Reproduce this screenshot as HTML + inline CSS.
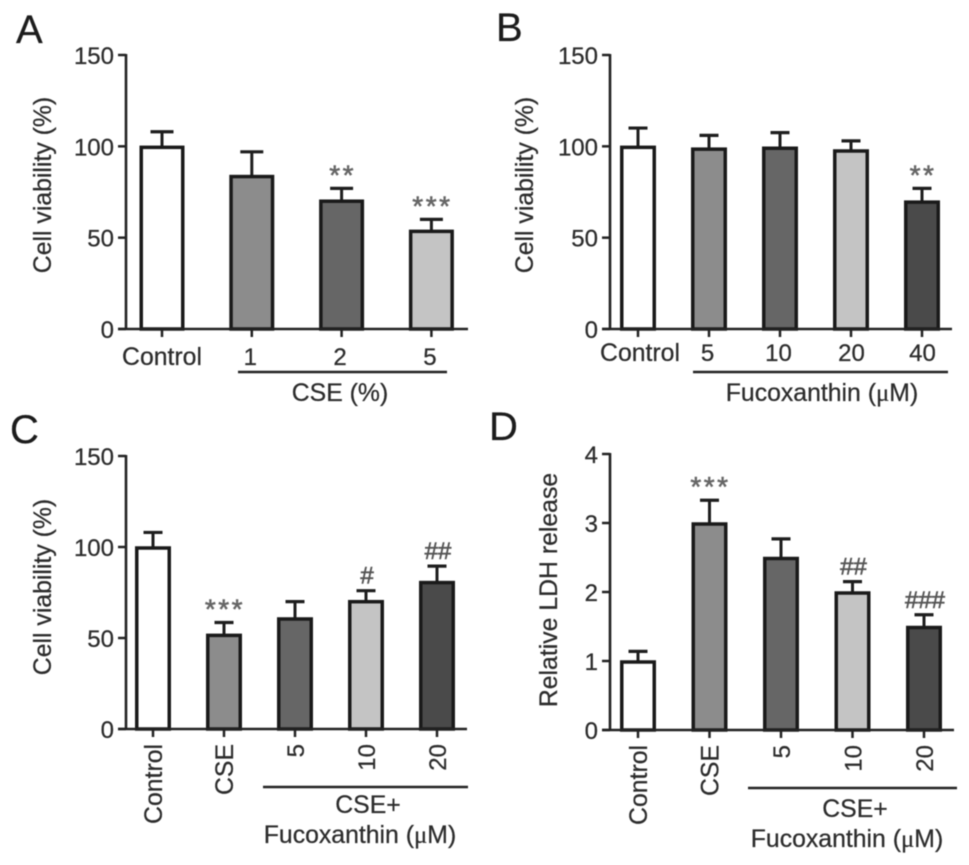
<!DOCTYPE html>
<html>
<head>
<meta charset="utf-8">
<style>
html,body{margin:0;padding:0;background:#fff;}
#figure{display:block;width:969px;height:865px;filter:blur(0.6px);}
text{font-family:"Liberation Sans",sans-serif;fill:#2c2c2c;stroke:#2c2c2c;stroke-width:0.25px;}
</style>
</head>
<body>
<svg id="figure" xmlns="http://www.w3.org/2000/svg" width="969" height="865" viewBox="0 0 969 865"></svg>
<script>
// Panel A
const aCategories = ['Control', '1', '2', '5'];
const aValues = [100, 84, 70.5, 54];
const aErrorTops = [108, 97, 77, 60];
const aMarks = ['', '', '**', '***'];
// Panel B
const bCategories = ['Control', '5', '10', '20', '40'];
const bValues = [100, 99, 99.5, 98, 70];
const bErrorTops = [110, 106, 107.5, 103, 77];
const bMarks = ['', '', '', '', '**'];
// Panel C
const cCategories = ['Control', 'CSE', '5', '10', '20'];
const cValues = [100, 52, 61, 70.5, 81];
const cErrorTops = [108, 58.5, 70, 76, 89.5];
const cMarks = ['', '***', '', '#', '##'];
// Panel D
const dCategories = ['Control', 'CSE', '5', '10', '20'];
const dValues = [1, 3, 2.5, 2, 1.5];
const dErrorTops = [1.14, 3.33, 2.77, 2.15, 1.67];
const dMarks = ['', '***', '', '##', '###'];
// Axis ticks
const viabilityTicks = [0, 50, 100, 150];
const ldhTicks = [0, 1, 2, 3, 4];
// Bar fills, in drawing order
const fillsFour = ['#ffffff', '#8c8c8c', '#666666', '#c4c4c4'];
const fillsFive = ['#ffffff', '#8c8c8c', '#666666', '#c4c4c4', '#4a4a4a'];

const SVG_NS = 'http://www.w3.org/2000/svg';
const WORD_SIZE = 24.8;
const NUMBER_SIZE = 24;
const root = document.getElementById('figure');

function make(parent, tag, attrs, content) {
  const node = document.createElementNS(SVG_NS, tag);
  for (const key in attrs) node.setAttribute(key, attrs[key]);
  if (content !== undefined) node.textContent = content;
  parent.appendChild(node);
  return node;
}

function line(parent, x1, y1, x2, y2, width, color) {
  return make(parent, 'line', {x1, y1, x2, y2, stroke: color || '#222', 'stroke-width': width});
}

function drawPanel(p) {
  const g = make(root, 'g', {});
  
  

  const yScale = v => p.y0 + (v / p.yMax) * (p.yTop - p.y0);
  const xScale = i => p.xFirst + i * p.xStep;

  const letter = make(g, 'text', {x: p.letterX, y: p.letterY, 'font-size': 40, style: 'fill:#1c1c1c;stroke:#1c1c1c'}, p.letter);
  
  

  const title = make(g, 'text', {
    x: 0, y: 0, 'font-size': WORD_SIZE, 'text-anchor': 'middle',
    transform: 'translate(' + p.titleX + ',' + p.titleY + ') rotate(-90)'
  }, p.title);
  
  

  p.categories.forEach((cat, i) => {
    const cx = xScale(i);
    const top = yScale(p.values[i]) + 1;
    const errTop = yScale(p.errorTops[i]);
    const isWord = isNaN(Number(cat));
    const labelSize = isWord ? WORD_SIZE : NUMBER_SIZE;

    const stem = line(g, cx, errTop, cx, top, 3, '#1e1e1e');
    
    

    const cap = line(g, cx - p.capW / 2, errTop, cx + p.capW / 2, errTop, 3.2, '#1e1e1e');
    
    

    const bar = make(g, 'rect', {
      x: cx - p.barW / 2 + 1.75, y: top, width: p.barW - 3.5, height: p.y0 - top,
      fill: p.fills[i], stroke: '#1a1a1a', 'stroke-width': 3.5
    });
    
    

    const tick = line(g, cx, p.y0, cx, p.y0 + 8, 2.5);
    
    

    let label;
    if (p.rotated) {
      label = make(g, 'text', {
        x: 0, y: 0, 'font-size': labelSize, 'text-anchor': 'end',
        transform: 'translate(' + (cx + 9) + ',' + (p.y0 + 15) + ') rotate(-90)'
      }, cat);
    } else {
      label = make(g, 'text', {
        x: cx + p.labelShift(i), y: p.labelY,
        'font-size': labelSize, 'text-anchor': 'middle'
      }, cat);
    }
    
    

    const markText = p.marks[i];
    if (markText) {
      const isHash = markText[0] === '#';
      const mark = make(g, 'text', {
        x: cx + 1, y: errTop - (isHash ? 7 : 4),
        'font-size': isHash ? 24 : 28, 'text-anchor': 'middle',
        'letter-spacing': isHash ? 0 : 2.5,
        style: isHash ? 'fill:#555;stroke:#555;stroke-width:0.6px' : 'fill:#666;stroke:#666;stroke-width:0.6px'
      }, markText);
      
      
    }
  });

  const yAxis = line(g, p.axisX, p.yTop - 1, p.axisX, p.y0 + 1, 2.6);
  
  

  const xAxis = line(g, p.axisX - 8, p.y0, p.xEnd, p.y0, 2.6);
  
  

  p.ticks.forEach(v => {
    const ty = yScale(v);
    const tick = line(g, p.axisX - 8, ty, p.axisX, ty, 2.5);
    
    

    const label = make(g, 'text', {x: p.axisX - 12, y: ty + 9, 'font-size': NUMBER_SIZE, 'text-anchor': 'end'}, String(v));
    
    
  });

  const groupLine = line(g, p.groupX1, p.groupY, p.groupX2, p.groupY, 2.5);
  
  

  p.groupLabels.forEach(item => {
    const label = make(g, 'text', {x: item.x, y: item.y, 'font-size': WORD_SIZE, 'text-anchor': 'middle'});
    
    
    make(label, 'tspan', {}, item.text);
    if (item.micro) {
      make(label, 'tspan', {style: 'font-family:"Liberation Serif",serif'}, '\u03BC');
      make(label, 'tspan', {}, 'M)');
    }
  });
}

drawPanel({
  id: 'a', letter: 'A', letterX: 16, letterY: 43,
  title: 'Cell viability (%)', titleX: 51, titleY: 185,
  axisX: 126, yTop: 55, y0: 329, yMax: 150, xEnd: 468,
  xFirst: 162, xStep: 89.8, barW: 45, capW: 23,
  categories: aCategories, values: aValues, errorTops: aErrorTops, marks: aMarks, fills: fillsFour,
  ticks: viabilityTicks, labelY: 365, rotated: false,
  labelShift: i => (i === 0 ? 0 : -1.5),
  groupX1: 238, groupX2: 447, groupY: 372,
  groupLabels: [{x: 340, y: 401, text: 'CSE (%)'}]
});

drawPanel({
  id: 'b', letter: 'B', letterX: 496, letterY: 41,
  title: 'Cell viability (%)', titleX: 533, titleY: 185,
  axisX: 610, yTop: 55, y0: 329, yMax: 150, xEnd: 952,
  xFirst: 638, xStep: 71, barW: 36, capW: 19,
  categories: bCategories, values: bValues, errorTops: bErrorTops, marks: bMarks, fills: fillsFive,
  ticks: viabilityTicks, labelY: 361, rotated: false,
  labelShift: i => (i === 0 ? 2 : i < 3 ? -1.5 : 0.5),
  groupX1: 693, groupX2: 948, groupY: 372,
  groupLabels: [{x: 822, y: 401, text: 'Fucoxanthin (', micro: true}]
});

drawPanel({
  id: 'c', letter: 'C', letterX: 10, letterY: 443,
  title: 'Cell viability (%)', titleX: 51, titleY: 587,
  axisX: 126, yTop: 456, y0: 729, yMax: 150, xEnd: 467,
  xFirst: 153, xStep: 71, barW: 36, capW: 19,
  categories: cCategories, values: cValues, errorTops: cErrorTops, marks: cMarks, fills: fillsFive,
  ticks: viabilityTicks, rotated: true,
  groupX1: 263, groupX2: 468, groupY: 787,
  groupLabels: [
    {x: 368, y: 813, text: 'CSE+'},
    {x: 360, y: 843, text: 'Fucoxanthin (', micro: true}
  ]
});

drawPanel({
  id: 'd', letter: 'D', letterX: 489, letterY: 440,
  title: 'Relative LDH release', titleX: 557, titleY: 590,
  axisX: 610, yTop: 454, y0: 730, yMax: 4, xEnd: 954,
  xFirst: 638, xStep: 71.5, barW: 36, capW: 19,
  categories: dCategories, values: dValues, errorTops: dErrorTops, marks: dMarks, fills: fillsFive,
  ticks: ldhTicks, rotated: true,
  groupX1: 748, groupX2: 957, groupY: 788,
  groupLabels: [
    {x: 855, y: 817, text: 'CSE+'},
    {x: 847, y: 847, text: 'Fucoxanthin (', micro: true}
  ]
});
</script>
</body>
</html>
